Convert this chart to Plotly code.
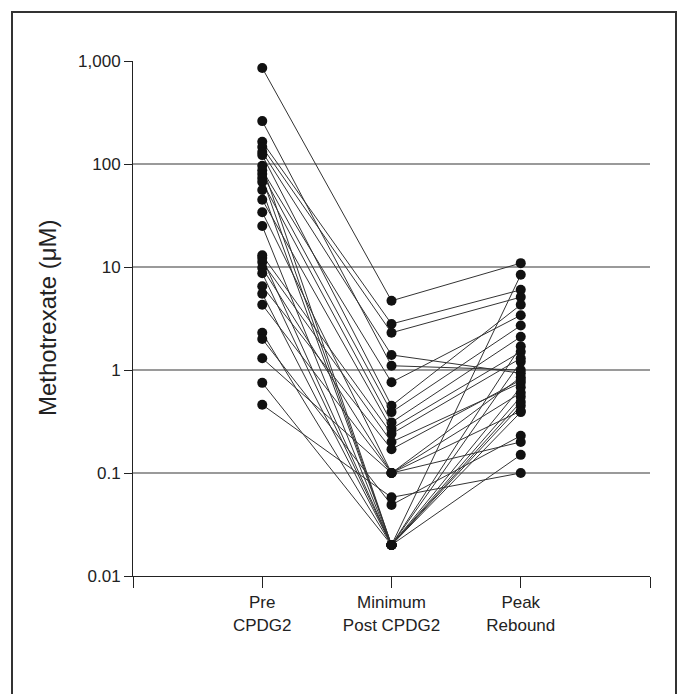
import plotly.graph_objects as go

categories = ["Pre<br>CPDG2", "Minimum<br>Post CPDG2", "Peak<br>Rebound"]
cat_pos = [1, 2, 3]

pre = [855, 261, 164, 146, 131, 122, 96, 87, 80, 73, 67, 56, 45, 34, 25,
       13, 12.2, 11.2, 9.8, 8.7, 6.5, 5.5, 4.3, 2.3, 2.0, 1.3, 0.75, 0.46]
minimum = [4.7, 1.1, 2.8, 2.3, 1.4, 0.45, 0.02, 0.76, 0.39, 0.02, 0.31, 0.02, 0.27, 0.1, 0.02,
           0.24, 0.02, 0.2, 0.1, 0.02, 0.17, 0.02, 0.1, 0.02, 0.049, 0.1, 0.02, 0.058]
peak = [10.9, 1.0, 6.0, 5.1, 0.93, 4.3, 8.4, 3.4, 2.7, 1.7, 2.1, 1.2, 1.5, 0.85, 0.68,
        1.3, 0.55, 0.75, 0.6, 0.49, 0.8, 0.45, 0.4, 0.39, 0.23, 0.2, 0.15, 0.1]

ytick_vals = [0.01, 0.1, 1, 10, 100, 1000]
ytick_text = ["0.01", "0.1", "1", "10", "100", "1,000"]

FONT = "Liberation Sans Narrow, Arial Narrow, Liberation Sans, Arial, sans-serif"

fig = go.Figure()
for a, b, c in zip(pre, minimum, peak):
    fig.add_trace(go.Scatter(
        x=cat_pos, y=[a, b, c], mode="lines+markers",
        line=dict(color="#333333", width=1),
        marker=dict(color="#111111", size=10),
        showlegend=False, hoverinfo="y"))

L, R, T, B = 133, 650, 61, 576
W, H = 679, 694
pw, ph = R - L, B - T

fig.update_layout(
    width=W, height=H,
    margin=dict(l=L, r=W - R, t=T, b=H - B),
    paper_bgcolor="white", plot_bgcolor="white",
    font=dict(family=FONT, size=17, color="#222222"),
    xaxis=dict(range=[0, 4], tickvals=[0, 1, 2, 3, 4],
               ticktext=[""] + categories + [""],
               showgrid=False, zeroline=False,
               showline=True, linecolor="#222222", linewidth=1,
               ticks="outside", ticklen=11, tickcolor="#222222",
               tickfont=dict(size=17, family=FONT, color="#222222")),
    yaxis=dict(type="log", range=[-2, 3], tickvals=ytick_vals, ticktext=ytick_text,
               showgrid=True, gridcolor="#9a9a9a", gridwidth=1.5,
               zeroline=False, showline=True, linecolor="#222222", linewidth=1,
               ticks="outside", ticklen=8, tickcolor="#222222",
               tickfont=dict(size=17, family=FONT, color="#222222")),
    shapes=[dict(type="rect", xref="paper", yref="paper",
                 x0=(12 - L) / pw, x1=(676 - L) / pw,
                 y0=(B - 720) / ph, y1=(B - 12) / ph,
                 line=dict(color="#333333", width=2), layer="below")],
    annotations=[dict(text="Methotrexate (μM)", textangle=-90,
                      xref="paper", yref="paper",
                      x=(47 - L) / pw, y=(B - 318) / ph,
                      xanchor="center", yanchor="middle", showarrow=False,
                      font=dict(size=24, family=FONT, color="#222222"))],
)

fig.write_html("out.html", config={"displayModeBar": False},
               post_script="document.body.style.margin='0px';document.body.style.overflow='hidden';")
